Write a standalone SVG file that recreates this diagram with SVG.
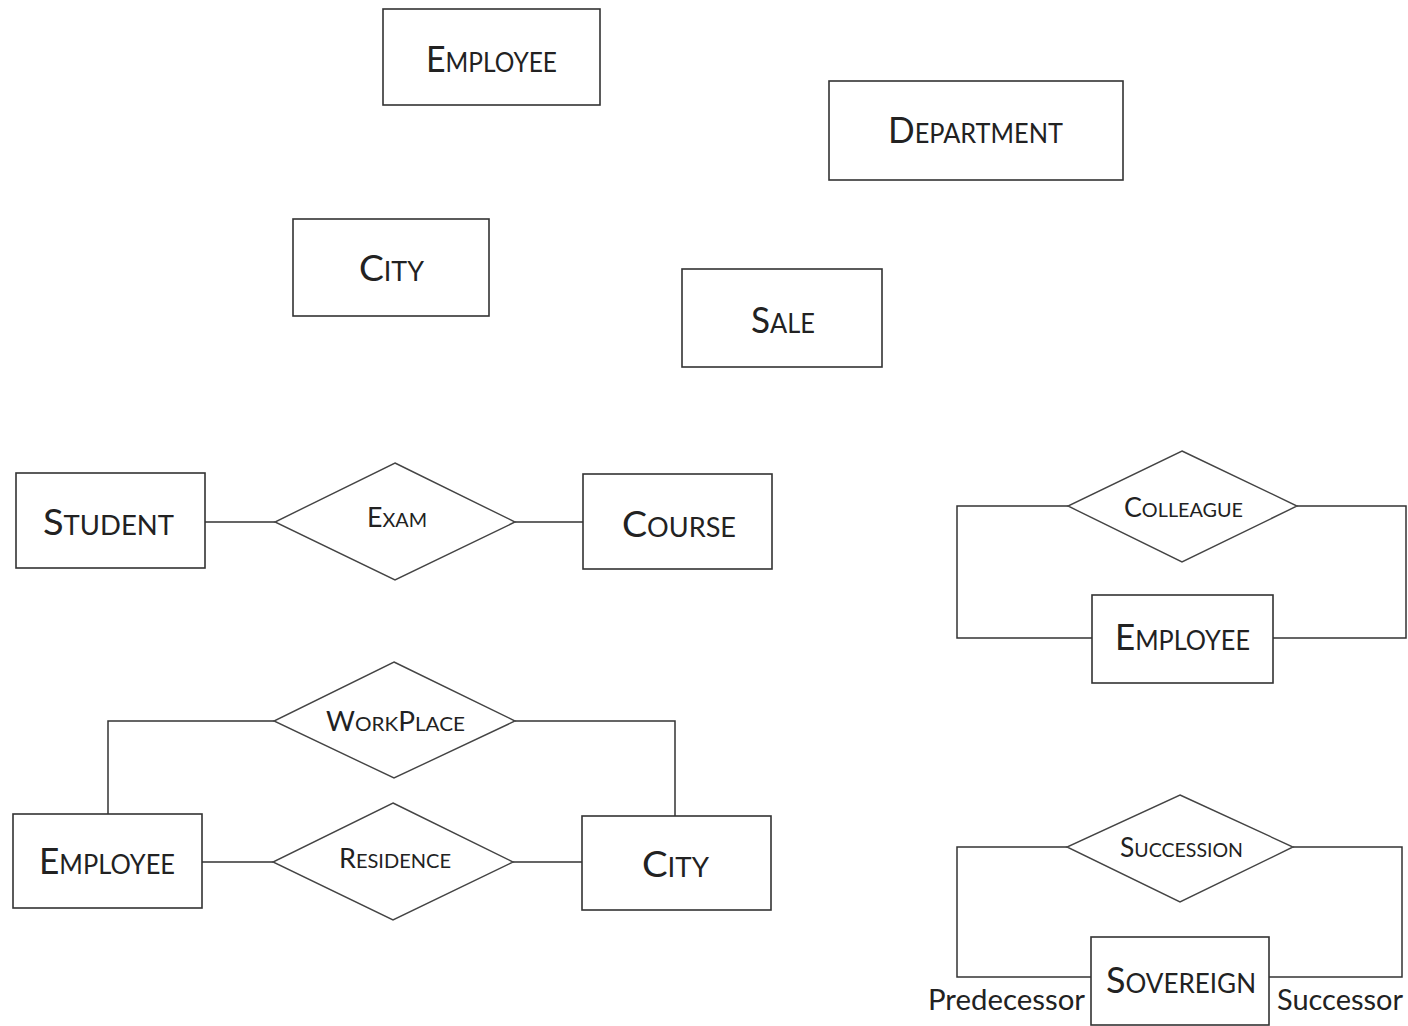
<svg xmlns="http://www.w3.org/2000/svg" width="1408" height="1026" viewBox="0 0 1408 1026">
  <style>
    .ent { fill: #fff; stroke: #333; stroke-width: 1.6; }
    .rel { fill: #fff; stroke: #444; stroke-width: 1.4; }
    .wire { fill: none; stroke: #333; stroke-width: 1.5; }
    text { font-family: Lato, "Open Sans", "Liberation Sans", sans-serif; fill: #222; text-anchor: middle; }
    .eb { font-size: 36px; }
    .es { font-size: 26px; }
    .rb { font-size: 27px; }
    .rs { font-size: 20px; }
    .role { font-size: 29px; text-anchor: start; }
  </style>
  <rect width="1408" height="1026" fill="#fff"/>

  <!-- connectors -->
  <g id="connectors">
    <path class="wire" d="M205,522 H275 M515,522 H583"/>
    <path class="wire" d="M1068,506 H957 V638 H1092 M1297,506 H1406 V638 H1273"/>
    <path class="wire" d="M274,721 H108 V814 M515,721 H675 V816"/>
    <path class="wire" d="M202,862 H273 M513,862 H582"/>
    <path class="wire" d="M1067,847 H957 V977 H1091 M1293,847 H1402 V977 H1269"/>
  </g>

  <!-- standalone entities -->
  <g id="employee-a">
    <rect class="ent" x="383" y="9" width="217" height="96"/>
    <text x="491.5" y="72" textLength="131" lengthAdjust="spacingAndGlyphs"><tspan class="eb">E</tspan><tspan class="es">MPLOYEE</tspan></text>
  </g>
  <g id="department">
    <rect class="ent" x="829" y="81" width="294" height="99"/>
    <text x="975.5" y="143" textLength="175" lengthAdjust="spacingAndGlyphs"><tspan class="eb">D</tspan><tspan class="es">EPARTMENT</tspan></text>
  </g>
  <g id="city-a">
    <rect class="ent" x="293" y="219" width="196" height="97"/>
    <text x="391.5" y="281" textLength="65" lengthAdjust="spacingAndGlyphs"><tspan class="eb">C</tspan><tspan class="es">ITY</tspan></text>
  </g>
  <g id="sale">
    <rect class="ent" x="682" y="269" width="200" height="98"/>
    <text x="783" y="333" textLength="64" lengthAdjust="spacingAndGlyphs"><tspan class="eb">S</tspan><tspan class="es">ALE</tspan></text>
  </g>

  <!-- Student - Exam - Course -->
  <g id="student">
    <rect class="ent" x="16" y="473" width="189" height="95"/>
    <text x="108.5" y="535" textLength="131" lengthAdjust="spacingAndGlyphs"><tspan class="eb">S</tspan><tspan class="es">TUDENT</tspan></text>
  </g>
  <g id="exam">
    <polygon class="rel" points="395,463 515,522 395,580 275,522"/>
    <text x="397" y="527" textLength="60" lengthAdjust="spacingAndGlyphs"><tspan class="rb">E</tspan><tspan class="rs">XAM</tspan></text>
  </g>
  <g id="course">
    <rect class="ent" x="583" y="474" width="189" height="95"/>
    <text x="679" y="537" textLength="114" lengthAdjust="spacingAndGlyphs"><tspan class="eb">C</tspan><tspan class="es">OURSE</tspan></text>
  </g>

  <!-- Colleague ring -->
  <g id="colleague">
    <polygon class="rel" points="1182,451 1297,506 1182,562 1068,506"/>
    <text x="1183.5" y="517" textLength="119" lengthAdjust="spacingAndGlyphs"><tspan class="rb">C</tspan><tspan class="rs">OLLEAGUE</tspan></text>
  </g>
  <g id="employee-b">
    <rect class="ent" x="1092" y="595" width="181" height="88"/>
    <text x="1182.5" y="650" textLength="135" lengthAdjust="spacingAndGlyphs"><tspan class="eb">E</tspan><tspan class="es">MPLOYEE</tspan></text>
  </g>

  <!-- WorkPlace / Residence -->
  <g id="workplace">
    <polygon class="rel" points="394,662 515,721 394,778 274,721"/>
    <text x="395.5" y="731" textLength="139" lengthAdjust="spacingAndGlyphs"><tspan class="rb">W</tspan><tspan class="rs">ORK</tspan><tspan class="rb">P</tspan><tspan class="rs">LACE</tspan></text>
  </g>
  <g id="residence">
    <polygon class="rel" points="393,803 513,862 393,920 273,862"/>
    <text x="395" y="868" textLength="112" lengthAdjust="spacingAndGlyphs"><tspan class="rb">R</tspan><tspan class="rs">ESIDENCE</tspan></text>
  </g>
  <g id="employee-c">
    <rect class="ent" x="13" y="814" width="189" height="94"/>
    <text x="107" y="874" textLength="136" lengthAdjust="spacingAndGlyphs"><tspan class="eb">E</tspan><tspan class="es">MPLOYEE</tspan></text>
  </g>
  <g id="city-b">
    <rect class="ent" x="582" y="816" width="189" height="94"/>
    <text x="675.5" y="877" textLength="67" lengthAdjust="spacingAndGlyphs"><tspan class="eb">C</tspan><tspan class="es">ITY</tspan></text>
  </g>

  <!-- Succession ring -->
  <g id="succession">
    <polygon class="rel" points="1180,795 1293,847 1180,902 1067,847"/>
    <text x="1181.5" y="857" textLength="123" lengthAdjust="spacingAndGlyphs"><tspan class="rb">S</tspan><tspan class="rs">UCCESSION</tspan></text>
  </g>
  <g id="sovereign">
    <rect class="ent" x="1091" y="937" width="178" height="88"/>
    <text x="1181" y="993" textLength="150" lengthAdjust="spacingAndGlyphs"><tspan class="eb">S</tspan><tspan class="es">OVEREIGN</tspan></text>
  </g>
  <text class="role" x="928" y="1010" textLength="157" lengthAdjust="spacingAndGlyphs">Predecessor</text>
  <text class="role" x="1277" y="1010" textLength="126" lengthAdjust="spacingAndGlyphs">Successor</text>
</svg>
